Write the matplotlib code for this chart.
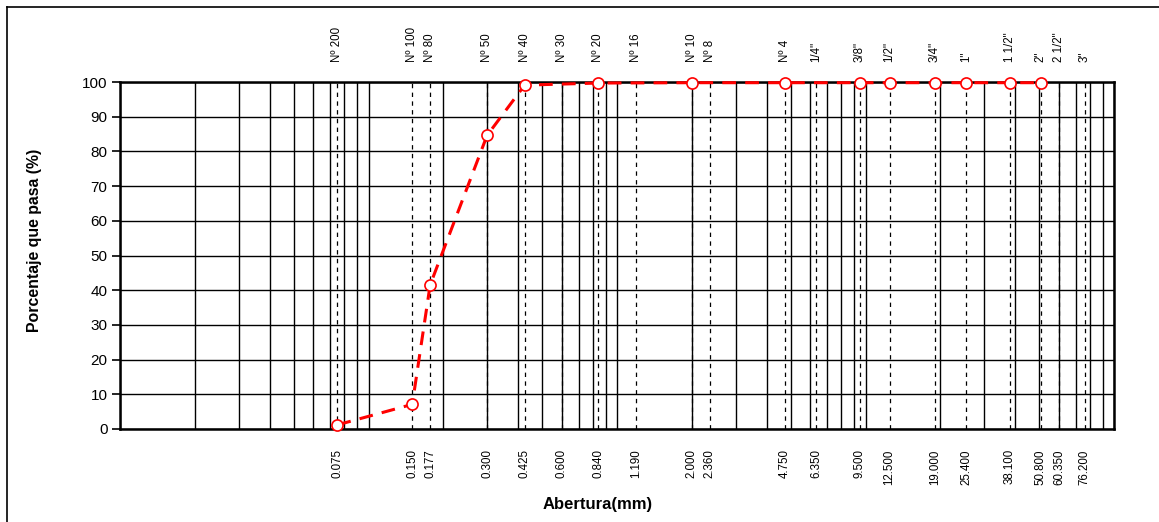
import numpy as np
import matplotlib
matplotlib.use("Agg")
import matplotlib.pyplot as plt
from matplotlib.lines import Line2D
from matplotlib.ticker import LogLocator, NullFormatter

plt.rcParams["font.family"] = ["Liberation Sans", "DejaVu Sans"]

# ------------- data -----------------

# sieve names and openings (mm)
sieve_names = ["Nº 200", "Nº 100", "Nº 80", "Nº 50", "Nº 40", "Nº 30", "Nº 20",
               "Nº 16", "Nº 10", "Nº 8", "Nº 4", '1/4"', '3/8"', '1/2"', '3/4"',
               '1"', '1 1/2"', '2"', '2 1/2"', '3"']
sieve_mm = [0.075, 0.150, 0.177, 0.300, 0.425, 0.600, 0.840, 1.190, 2.000, 2.360,
            4.750, 6.350, 9.500, 12.500, 19.000, 25.400, 38.100, 50.800, 60.350, 76.200]

# grading curve (opening mm, % passing)
curve_mm = [0.075, 0.150, 0.177, 0.300, 0.425, 0.840, 2.000, 4.750, 9.500,
            12.500, 19.000, 25.400, 38.100, 50.800]
curve_pass = [1.2, 7.1, 41.5, 84.6, 99.1, 99.7, 99.8, 99.8, 99.8,
              99.8, 99.8, 99.8, 99.8, 99.8]

y_ticks = [0, 10, 20, 30, 40, 50, 60, 70, 80, 90, 100]

# ------------- plotting -----------------

W, H = 1159, 522
fig = plt.figure(figsize=(W / 100, H / 100), dpi=100)
ax = fig.add_axes([120 / W, 1 - 429 / H, (1114 - 120) / W, (429 - 82) / H])

ax.set_xscale("log")
ax.set_xlim(0.01, 100)
ax.set_ylim(0, 100)

# log grid (solid) + horizontal grid
ax.xaxis.set_major_locator(LogLocator(base=10))
ax.xaxis.set_minor_locator(LogLocator(base=10, subs=np.arange(2, 10)))
ax.xaxis.set_major_formatter(NullFormatter())
ax.xaxis.set_minor_formatter(NullFormatter())
ax.grid(True, which="both", axis="x", color="black", linewidth=1.0)
ax.set_yticks(y_ticks)
ax.grid(True, which="major", axis="y", color="black", linewidth=1.0)
ax.tick_params(axis="x", which="both", length=0)
ax.tick_params(axis="y", length=6, width=1.2, labelsize=11, pad=3, direction="out")

for s in ax.spines.values():
    s.set_linewidth(1.8)

# sieve lines (dashed) and labels
for name, mm in zip(sieve_names, sieve_mm):
    ax.axvline(mm, color="black", linewidth=0.9, linestyle=(0, (3.5, 3.5)), zorder=2)
    ax.annotate(name, xy=(mm, 1), xycoords=("data", "axes fraction"),
                xytext=(0, 14.5), textcoords="offset points", rotation=90,
                ha="center", va="bottom", fontsize=8.3)
    ax.annotate(f"{mm:.3f}", xy=(mm, 0), xycoords=("data", "axes fraction"),
                xytext=(0, -14.5), textcoords="offset points", rotation=90,
                ha="center", va="top", fontsize=8.3)

ax.plot(curve_mm, curve_pass, color="red", linewidth=2.2, linestyle=(0, (4.5, 3)),
        marker="o", markersize=8, markerfacecolor="white", markeredgecolor="red",
        markeredgewidth=1.2, zorder=5, clip_on=False)

fig.text(598 / W, 1 - 505 / H, "Abertura(mm)", ha="center", va="center",
         fontsize=12, fontweight="bold")
fig.text(35 / W, 1 - 240 / H, "Porcentaje que pasa (%)", ha="center", va="center",
         rotation=90, fontsize=11.4, fontweight="bold")

# outer frame (left and top edge)
fig.add_artist(Line2D([7 / W, 7 / W], [0, 1 - 7 / H], transform=fig.transFigure,
                      color="black", linewidth=1.2))
fig.add_artist(Line2D([7 / W, 1], [1 - 7 / H, 1 - 7 / H], transform=fig.transFigure,
                      color="black", linewidth=1.2))

fig.savefig("out.png", dpi=100)
